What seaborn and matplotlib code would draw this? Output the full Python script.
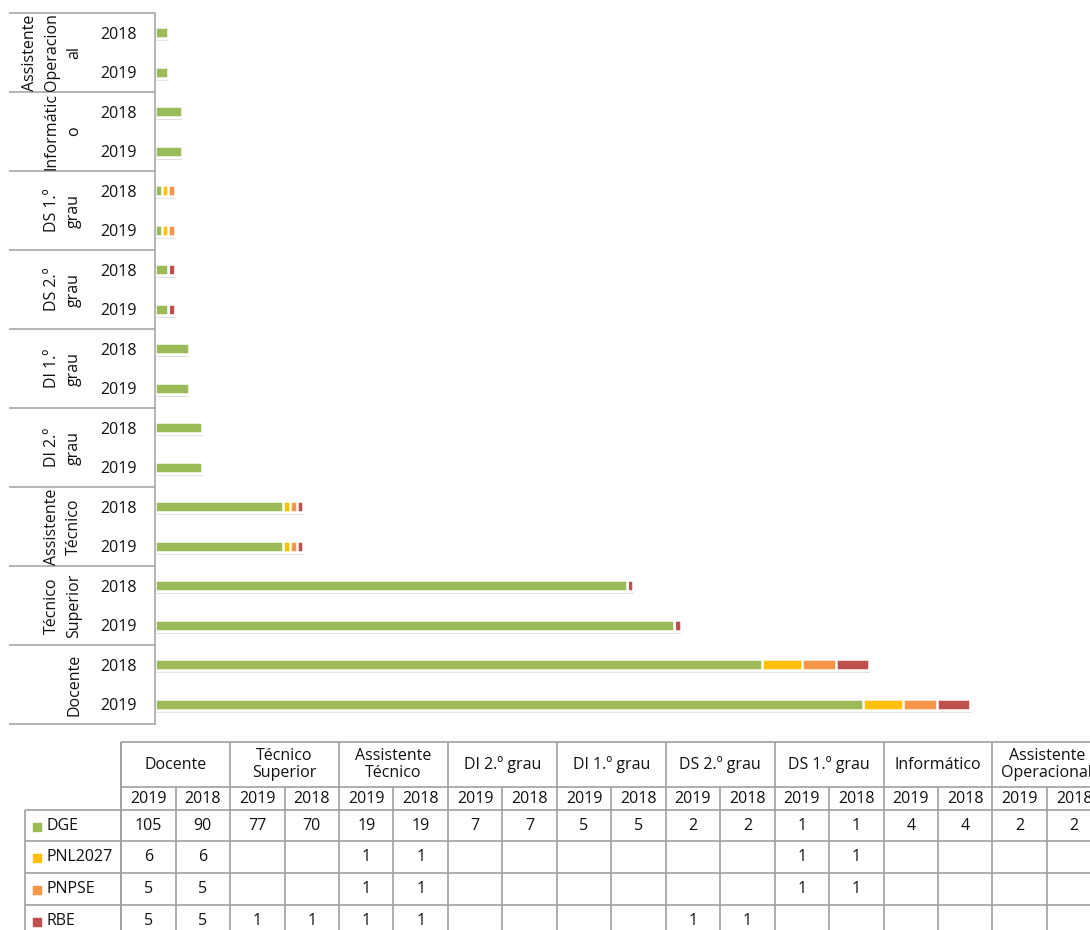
import numpy as np
import pandas as pd
import matplotlib
matplotlib.use('Agg')
import matplotlib.pyplot as plt
import matplotlib.patheffects as pe
from matplotlib.transforms import blended_transform_factory
import seaborn as sns

nan = np.nan

# categories (table order), labels as wrapped in the chart axis and in the table header
categories = ['Docente', 'Técnico Superior', 'Assistente Técnico', 'DI 2.º grau', 'DI 1.º grau',
              'DS 2.º grau', 'DS 1.º grau', 'Informático', 'Assistente Operacional']
axis_labels = ['Docente', 'Técnico\nSuperior', 'Assistente\nTécnico', 'DI 2.º\ngrau', 'DI 1.º\ngrau',
               'DS 2.º\ngrau', 'DS 1.º\ngrau', 'Informátic\no', 'Assistente\nOperacion\nal']
table_labels = ['Docente', 'Técnico\nSuperior', 'Assistente\nTécnico', 'DI 2.º grau', 'DI 1.º grau',
                'DS 2.º grau', 'DS 1.º grau', 'Informático', 'Assistente\nOperacional']
years = ['2019', '2018']

# one value per (category, year) column of the table
dge     = [105, 90, 77, 70, 19, 19, 7, 7, 5, 5, 2, 2, 1, 1, 4, 4, 2, 2]
pnl2027 = [6, 6, nan, nan, 1, 1, nan, nan, nan, nan, nan, nan, 1, 1, nan, nan, nan, nan]
pnpse   = [5, 5, nan, nan, 1, 1, nan, nan, nan, nan, nan, nan, 1, 1, nan, nan, nan, nan]
rbe     = [5, 5, 1, 1, 1, 1, nan, nan, nan, nan, 1, 1, nan, nan, nan, nan, nan, nan]

series = ['DGE', 'PNL2027', 'PNPSE', 'RBE']
colors = ['#9BBB59', '#FFC000', '#F79646', '#C0504D']

rows = [f'{c}|{y}' for c in categories for y in years]
df = pd.DataFrame({'row': rows, 'DGE': dge, 'PNL2027': pnl2027, 'PNPSE': pnpse, 'RBE': rbe})
cum = df[series].fillna(0).cumsum(axis=1)
for s in series:
    df['cum_' + s] = cum[s]

order = rows[::-1]  # Docente 2019 at the bottom

sns.set_style('white')
plt.rcParams['font.family'] = ['Open Sans', 'DejaVu Sans']
txt = '#111111'
grid_c = '#A0A0A0'
fs = 11.5

W, H = 1090, 930
fig = plt.figure(figsize=(W / 100, H / 100), dpi=100)
ax = fig.add_axes([155 / W, (H - 724) / H, 930 / W, (724 - 13) / H])

# stacked bars drawn as overlays of cumulative totals, longest first
for k, s in enumerate(reversed(series)):
    n0 = len(ax.patches)
    sns.barplot(data=df, x='cum_' + s, y='row', order=order, orient='h',
                color=colors[series.index(s)], width=0.27, edgecolor='white',
                linewidth=1.8, errorbar=None, saturation=1, ax=ax)
    if k == 0:
        for p in ax.patches[n0:]:
            p.set_path_effects([pe.SimplePatchShadow(offset=(0.6, -2.2), shadow_rgbFace='#909090', alpha=0.25),
                                pe.Normal()])

ax.set_xlim(0, 138)
ax.set_ylim(17.5, -0.5)
ax.set_xlabel('')
ax.set_ylabel('')
ax.set_xticks([])
ax.set_yticks(range(len(order)))
ax.set_yticklabels([r.split('|')[1] for r in order], fontsize=fs, color=txt)
ax.tick_params(axis='y', length=0, pad=13)
for sp in ['top', 'right', 'bottom']:
    ax.spines[sp].set_visible(False)
ax.spines['left'].set_color(grid_c)
ax.spines['left'].set_linewidth(1.1)

# multi-level category labels and group separators
btr = blended_transform_factory(fig.transFigure, ax.transData)
for i, lab in enumerate(axis_labels):
    yc = len(order) - 1.5 - 2 * i
    ax.text(82 / W, yc, lab, transform=btr, rotation=90, ha='right', va='center',
            multialignment='center', linespacing=1.5, fontsize=fs, color=txt)
ax.hlines(np.arange(-0.5, len(order), 2), 9 / W, 155 / W, transform=btr,
          colors=grid_c, linewidth=1.1, clip_on=False)

# data table under the chart, in pixel coordinates
ov = fig.add_axes([0, 0, 1, 1], zorder=-1)
ov.set_xlim(0, W)
ov.set_ylim(H, 0)
ov.axis('off')

x0, cw, lx = 121.2, 54.45, 25
ys = [742, 787, 810, 841, 873, 905, 937]
ncol = len(rows)
xend = x0 + cw * ncol
lk = dict(color=grid_c, linewidth=1.2, clip_on=False)

ov.hlines([ys[0], ys[1]], x0, xend, **lk)
ov.hlines(ys[2:], lx, xend, **lk)
ov.vlines(x0 + 2 * cw * np.arange(len(categories) + 1), ys[0], ys[1], **lk)
ov.vlines(x0 + cw * np.arange(ncol + 1), ys[1], ys[-1], **lk)
ov.vlines([lx, x0], ys[2], ys[-1], **lk)
ov.vlines(x0, ys[0], ys[2], **lk)

for g, lab in enumerate(table_labels):
    ov.text(x0 + 2 * cw * g + cw, (ys[0] + ys[1]) / 2, lab, ha='center', va='center',
            multialignment='center', linespacing=1.05, fontsize=fs, color=txt)
for j, r in enumerate(rows):
    ov.text(x0 + cw * j + cw / 2, (ys[1] + ys[2]) / 2, r.split('|')[1],
            ha='center', va='center', fontsize=fs, color=txt)

for si, s in enumerate(series):
    yc = (ys[2 + si] + ys[3 + si]) / 2
    ov.scatter([37], [yc + 1], marker='s', s=34, color=colors[si], clip_on=False)
    ov.text(46, yc, s, ha='left', va='center', fontsize=fs, color=txt)
    for j, v in enumerate(df[s]):
        if not np.isnan(v):
            ov.text(x0 + cw * j + cw / 2, yc, f'{int(v)}', ha='center', va='center',
                    fontsize=fs, color=txt)

fig.savefig('out.png', dpi=100, facecolor='white')
